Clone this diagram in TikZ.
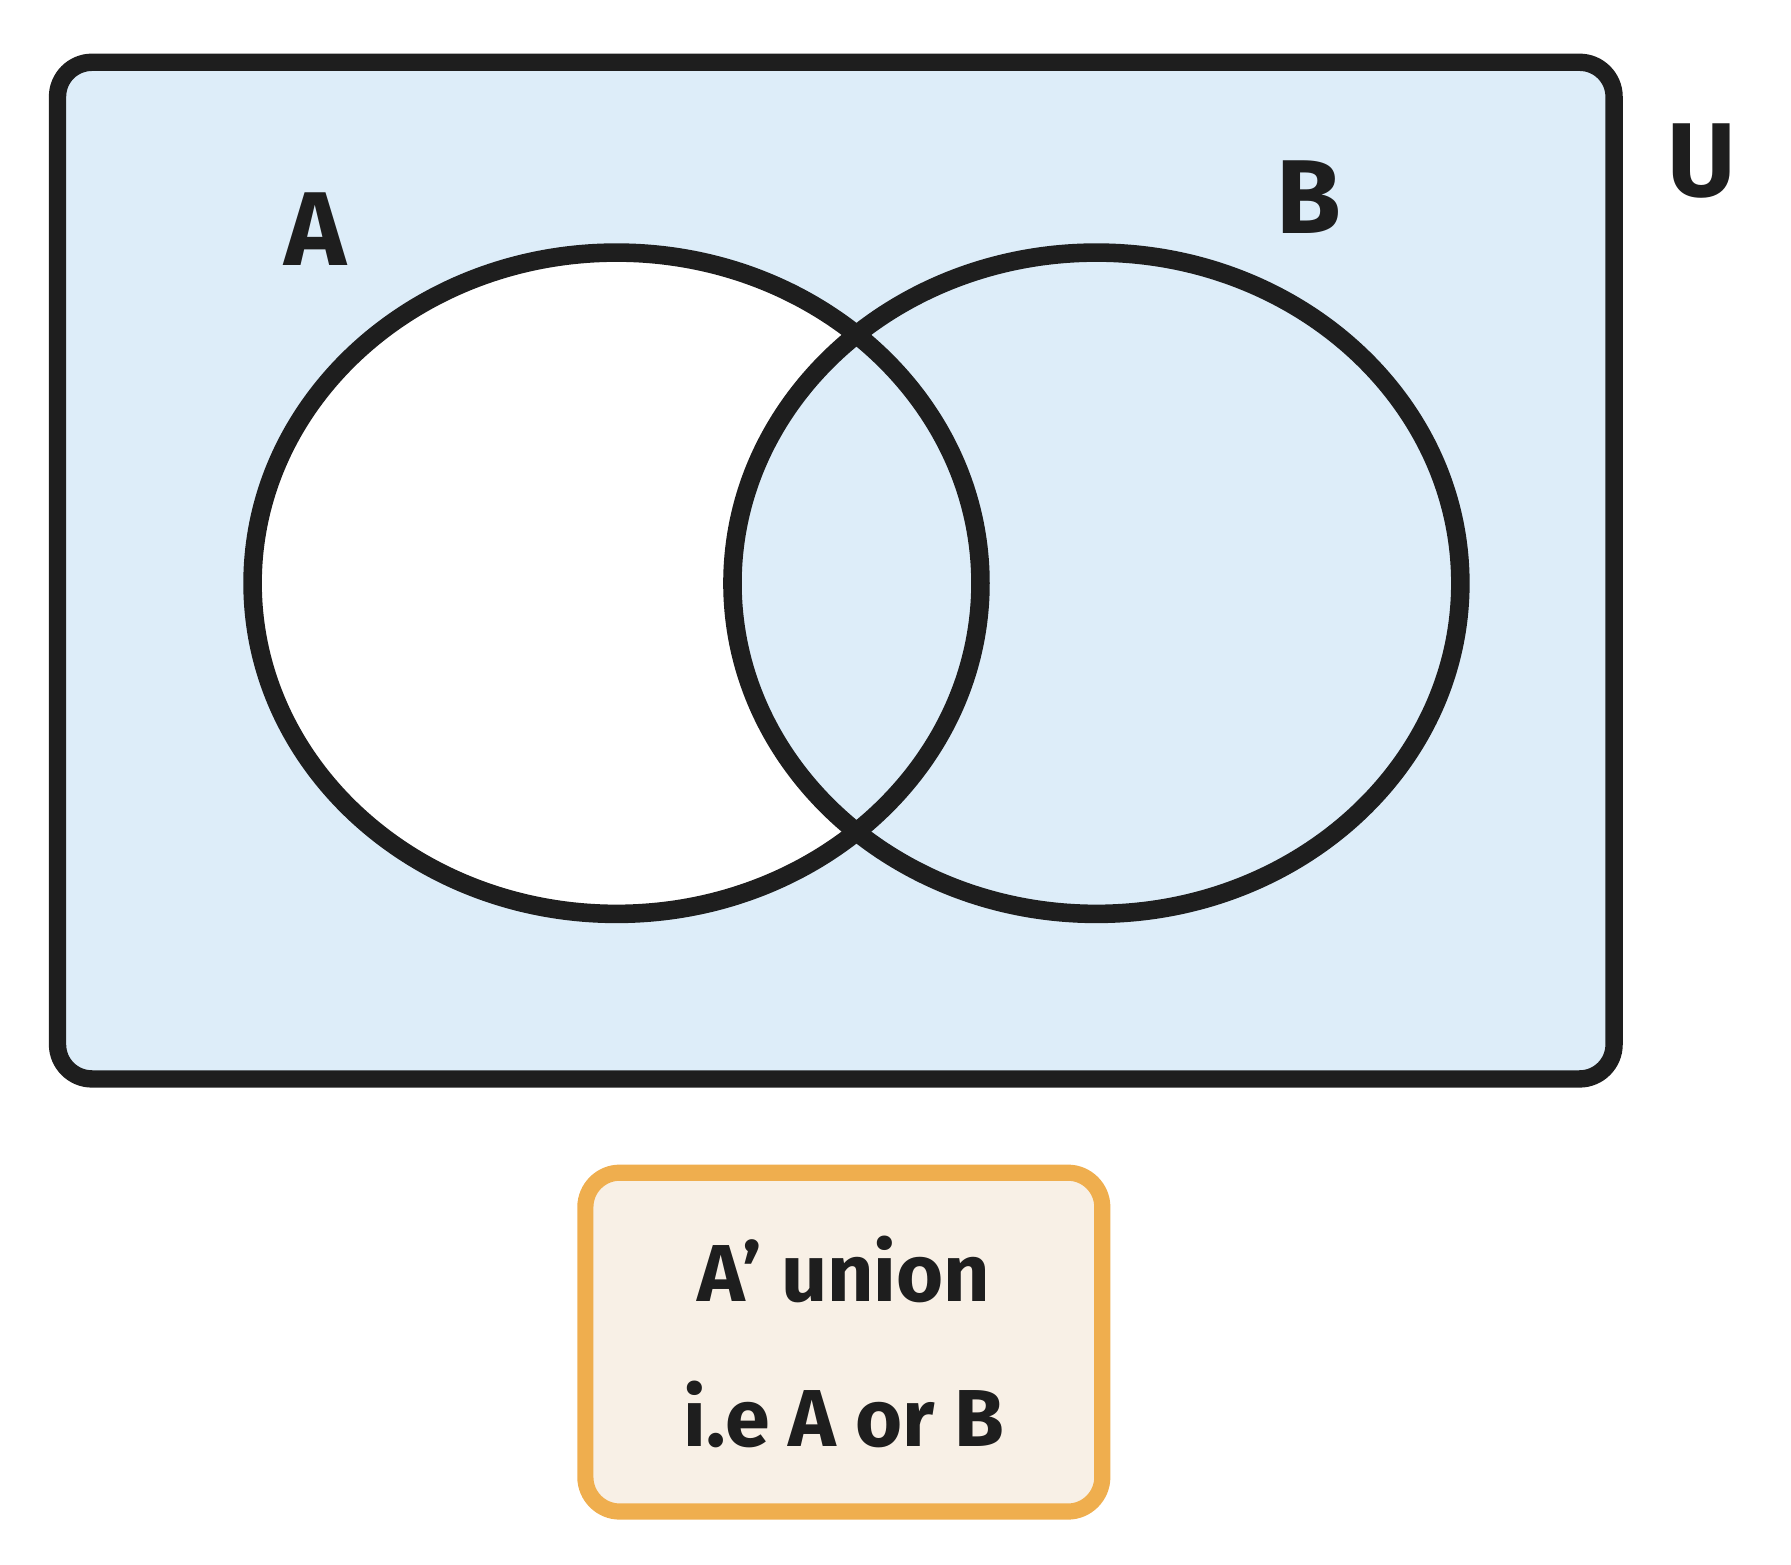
\documentclass[tikz,border=0pt]{standalone}
\usepackage{fontspec}
\setmainfont{Fira Sans}
\definecolor{setblue}{HTML}{DDEDF9}
\definecolor{notefill}{HTML}{F8F0E6}
\definecolor{noteline}{HTML}{EFAE4E}
\definecolor{ink}{HTML}{1E1E1E}
\tikzset{
  setline/.style={draw=ink,line width=4.6pt},
  setlabel/.style={font=\fontsize{26}{30}\selectfont\bfseries,text=ink},
}
\begin{document}
\begin{tikzpicture}[x=0.01cm,y=-0.01cm]
                \useasboundingbox (0,0) rectangle (1560,1363);
                % universe
                \node[draw=ink,line width=4.3pt,fill=setblue,rounded corners=0.3cm,minimum width=13.55cm,minimum height=8.85cm] (U) at (728,497) {};
                \node[setlabel] (UL) at (1482,140) {U};
                % sets
                \fill[white] (537,508) ellipse [x radius=317,y radius=288];
                \fill[setblue] (955,508) ellipse [x radius=317,y radius=288];
                \draw[setline] (537,508) ellipse [x radius=317,y radius=288];
                \draw[setline] (955,508) ellipse [x radius=317,y radius=288];
                \node[setlabel] (AL) at (275,200) {A};
                \node[setlabel] (BL) at (1140,172) {B};
                % note
                \node[draw=noteline,line width=4pt,fill=notefill,rounded corners=0.3cm,minimum width=4.5cm,minimum height=2.95cm,align=center,font=\fontsize{20}{36}\selectfont\bfseries,text=ink] (N) at (735,1169) {A' union\\ i.e A or B};
            \end{tikzpicture}
\end{document}
